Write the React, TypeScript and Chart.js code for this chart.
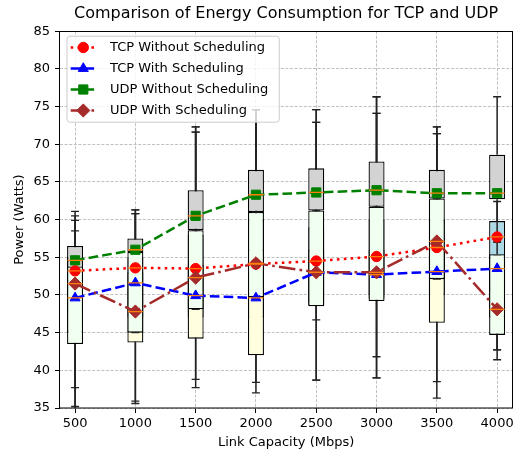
import React, { useEffect, useRef } from 'react';
import { Chart, registerables } from 'chart.js';
import * as helpers from 'chart.js/helpers';

Chart.register(...registerables);

const FONT = "'DejaVu Sans', 'Liberation Sans', sans-serif";

const titleText = 'Comparison of Energy Consumption for TCP and UDP';
const xTitle = 'Link Capacity (Mbps)';
const yTitle = 'Power (Watts)';

const capacities = [500, 1000, 1500, 2000, 2500, 3000, 3500, 4000];
const xTicks = [500, 1000, 1500, 2000, 2500, 3000, 3500, 4000];
const yTicks = [35, 40, 45, 50, 55, 60, 65, 70, 75, 80, 85];

const seriesLabels = ['TCP Without Scheduling', 'TCP With Scheduling', 'UDP Without Scheduling', 'UDP With Scheduling'];

// line values (= box medians)
const tcpWithout = [53.2, 53.6, 53.5, 54.1, 54.5, 55.1, 56.3, 57.7];
const tcpWith = [49.6, 51.6, 49.9, 49.6, 53.0, 52.7, 53.1, 53.5];
const udpWithout = [54.6, 56.0, 60.5, 63.3, 63.6, 63.9, 63.5, 63.5];
const udpWith = [51.5, 47.8, 52.3, 54.2, 53.0, 53.0, 57.1, 48.1];

// box statistics: TCP without scheduling
const tcpWithoutLow = [35.2, 35.6, 37.7, 37.0, 38.7, 39.0, 36.3, 41.4];
const tcpWithoutQ1 = [48, 47, 47, 47, 49, 50, 50, 50.5];
const tcpWithoutQ3 = [55, 55, 58, 60, 59, 60, 60, 59.8];
const tcpWithoutHigh = [61.1, 61.3, 72.3, 74.6, 72.9, 74.1, 72.3, 62.4];

// TCP with scheduling
const tcpWithLow = [37.7, 35.9, 38.8, 38.4, 46.7, 41.8, 38.5, 42.7];
const tcpWithQ1 = [45, 43.7, 44.2, 42.0, 48.6, 49.5, 46.3, 47];
const tcpWithQ3 = [52, 53, 54, 56, 56, 56, 56, 55];
const tcpWithHigh = [60.5, 60.8, 71.6, 74.6, 74.6, 76.3, 71.4, 55.2];

// UDP without scheduling
const udpWithoutLow = [53.6, 55.7, 58.6, 61.0, 61.2, 61.7, 62.8, 57.0];
const udpWithoutQ1 = [53.6, 55.7, 58.6, 61.0, 61.2, 61.7, 62.8, 62.7];
const udpWithoutQ3 = [56.5, 57.5, 63.9, 66.6, 66.8, 67.7, 66.6, 68.6];
const udpWithoutHigh = [58.5, 61.3, 72.3, 74.6, 74.6, 76.3, 72.3, 76.3];

// UDP with scheduling
const udpWithLow = [34.0, 45.0, 48.1, 49.7, 38.7, 39.0, 52.1, 42.7];
const udpWithQ1 = [43.5, 45.0, 48.1, 49.7, 48.5, 49.2, 52.1, 44.7];
const udpWithQ3 = [54.5, 55.7, 58.6, 61.0, 61.2, 61.7, 62.8, 55.4];
const udpWithHigh = [59.9, 60.8, 71.6, 74.6, 72.9, 74.1, 71.4, 57.0];

function boxGroup(fill: string, low: number[], q1: number[], q3: number[], high: number[], baseOrder: number) {
  return [
    {
      type: 'bar',
      label: '_box',
      data: capacities.map((x, i) => ({ x, y: [q1[i], q3[i]] })),
      backgroundColor: fill,
      borderColor: '#000',
      borderWidth: 1.3,
      borderSkipped: false,
      barThickness: 16,
      grouped: false,
      inflateAmount: 0,
      order: baseOrder + 2,
    },
    {
      type: 'bar',
      label: '_whisker',
      data: [
        ...capacities.map((x, i) => ({ x, y: [low[i], q1[i]] })),
        ...capacities.map((x, i) => ({ x, y: [q3[i], high[i]] })),
      ],
      backgroundColor: '#222',
      borderWidth: 0,
      barThickness: 1.5,
      grouped: false,
      inflateAmount: 0,
      order: baseOrder + 1,
    },
    {
      type: 'scatter',
      label: '_cap',
      data: [
        ...capacities.map((x, i) => ({ x, y: low[i] })),
        ...capacities.map((x, i) => ({ x, y: high[i] })),
      ],
      pointStyle: 'line',
      pointRadius: 4,
      pointBorderColor: '#222',
      pointBorderWidth: 1.3,
      showLine: false,
      order: baseOrder,
    },
  ];
}

function medianSet(vals: number[]) {
  return {
    type: 'scatter',
    label: '_median',
    data: capacities.map((x, i) => ({ x, y: vals[i] })),
    pointStyle: 'line',
    pointRadius: 7.5,
    pointBorderColor: '#ff7f0e',
    pointBorderWidth: 1.3,
    showLine: false,
    order: 0,
  };
}

function seriesSet(label: string, vals: number[], color: string, dash: number[], style: string, radius: number, order: number) {
  return {
    type: 'line',
    label,
    isSeries: true,
    data: capacities.map((x, i) => ({ x, y: vals[i] })),
    borderColor: color,
    backgroundColor: color,
    borderWidth: 2.5,
    borderDash: dash,
    borderCapStyle: 'butt',
    fill: false,
    tension: 0,
    pointStyle: style,
    pointRadius: radius,
    pointBackgroundColor: color,
    pointBorderColor: color,
    pointBorderWidth: 1,
    order,
  };
}

const framePlugin = {
  id: 'frame',
  afterDatasetsDraw(chart: any) {
    const { ctx, chartArea: a } = chart;
    ctx.save();
    ctx.strokeStyle = '#000';
    ctx.lineWidth = 1;
    ctx.setLineDash([]);
    ctx.strokeRect(Math.round(a.left) - 0.5, Math.round(a.top) + 0.5, Math.round(a.right - a.left) + 1, Math.round(a.bottom - a.top) - 0.5);
    ctx.restore();
  },
};

const legendPlugin = {
  id: 'insideLegend',
  afterDraw(chart: any) {
    const { ctx, chartArea: a } = chart;
    const items = chart.data.datasets.filter((d: any) => d.isSeries);
    ctx.save();
    ctx.font = `13px ${FONT}`;
    const textW = Math.max(...items.map((d: any) => ctx.measureText(d.label).width));
    const left = a.left + 7;
    const top = a.top + 5;
    const width = 43 + textW + 11;
    const height = 86;
    const r = 3;
    ctx.beginPath();
    ctx.moveTo(left + r, top);
    ctx.lineTo(left + width - r, top);
    ctx.arcTo(left + width, top, left + width, top + r, r);
    ctx.lineTo(left + width, top + height - r);
    ctx.arcTo(left + width, top + height, left + width - r, top + height, r);
    ctx.lineTo(left + r, top + height);
    ctx.arcTo(left, top + height, left, top + height - r, r);
    ctx.lineTo(left, top + r);
    ctx.arcTo(left, top, left + r, top, r);
    ctx.closePath();
    ctx.fillStyle = 'rgba(255,255,255,0.8)';
    ctx.fill();
    ctx.strokeStyle = '#cccccc';
    ctx.lineWidth = 1;
    ctx.stroke();
    items.forEach((d: any, i: number) => {
      const y = top + 11.3 + i * 21;
      ctx.save();
      ctx.strokeStyle = d.borderColor;
      ctx.lineWidth = d.borderWidth;
      ctx.setLineDash(d.borderDash);
      ctx.lineCap = 'butt';
      ctx.beginPath();
      ctx.moveTo(left + 3.7, y);
      ctx.lineTo(left + 29, y);
      ctx.stroke();
      ctx.setLineDash([]);
      ctx.fillStyle = d.pointBackgroundColor;
      ctx.strokeStyle = d.pointBorderColor;
      ctx.lineWidth = d.pointBorderWidth;
      helpers.drawPoint(ctx, { pointStyle: d.pointStyle, radius: d.pointRadius, rotation: 0, borderWidth: d.pointBorderWidth }, left + 16.3, y);
      ctx.restore();
      ctx.fillStyle = '#000';
      ctx.textBaseline = 'middle';
      ctx.textAlign = 'left';
      ctx.fillText(d.label, left + 43, y);
    });
    ctx.restore();
  },
};

export default function App() {
  const ref = useRef<HTMLCanvasElement | null>(null);
  useEffect(() => {
    if (!ref.current) return;
    Chart.defaults.font.family = FONT;
    Chart.defaults.color = '#000';
    const datasets: any[] = [
      medianSet(tcpWithout),
      medianSet(tcpWith),
      medianSet(udpWithout),
      medianSet(udpWith),
      seriesSet(seriesLabels[0], tcpWithout, '#ff0000', [2.6, 4.3], 'circle', 5.2, 4),
      seriesSet(seriesLabels[1], tcpWith, '#0000ff', [9.6, 4.2], 'triangle', 5.8, 3),
      seriesSet(seriesLabels[2], udpWithout, '#008000', [9.6, 4.2], 'rect', 6.5, 2),
      seriesSet(seriesLabels[3], udpWith, '#a52a2a', [16.6, 4.2, 2.6, 4.2], 'rectRot', 6.6, 1),
      ...boxGroup('#d3d3d3', udpWithoutLow, udpWithoutQ1, udpWithoutQ3, udpWithoutHigh, 10),
      ...boxGroup('#f0fff0', udpWithLow, udpWithQ1, udpWithQ3, udpWithHigh, 20),
      ...boxGroup('#ffffe0', tcpWithLow, tcpWithQ1, tcpWithQ3, tcpWithHigh, 30),
      ...boxGroup('#add8e6', tcpWithoutLow, tcpWithoutQ1, tcpWithoutQ3, tcpWithoutHigh, 40),
    ];
    const gridCommon = { color: '#b0b0b0', lineWidth: 0.8, tickColor: '#000', tickWidth: 1, tickLength: 5, offset: false };
    const chart = new Chart(ref.current, {
      type: 'bar',
      data: { datasets },
      plugins: [framePlugin, legendPlugin],
      options: {
        responsive: false,
        maintainAspectRatio: false,
        animation: false,
        events: [],
        layout: { padding: { left: 0, right: 5, top: 0, bottom: 0 } },
        plugins: {
          legend: { display: false },
          tooltip: { enabled: false },
          title: { display: true, text: titleText, fullSize: false, color: '#000', font: { family: FONT, size: 16, weight: 'normal' }, padding: { top: 4, bottom: 8 } },
        },
        scales: {
          x: {
            type: 'linear', min: 375, max: 4125, offset: false, grid: gridCommon,
            border: { display: false, dash: [3, 1.6] },
            afterBuildTicks: (axis: any) => { axis.ticks = xTicks.map((v) => ({ value: v })); },
            afterFit: (s: any) => { s.height = 48; },
            ticks: { color: '#000', font: { family: FONT, size: 13 }, padding: 3, maxRotation: 0, autoSkip: false, callback: (v: any) => String(v) },
            title: { display: true, text: xTitle, color: '#000', font: { family: FONT, size: 13 }, padding: { top: 0, bottom: 6 } },
          },
          y: {
            type: 'linear', min: 35, max: 85, grid: gridCommon,
            border: { display: false, dash: [3, 1.6] },
            afterBuildTicks: (axis: any) => { axis.ticks = yTicks.map((v) => ({ value: v })); },
            afterFit: (s: any) => { s.width = 60; },
            ticks: { color: '#000', font: { family: FONT, size: 13 }, padding: 5, autoSkip: false, callback: (v: any) => String(v) },
            title: { display: true, text: yTitle, color: '#000', font: { family: FONT, size: 13 }, padding: { top: 12, bottom: 0 } },
          },
        },
      } as any,
    } as any);
    return () => chart.destroy();
  }, []);
  return (
    <div style={{ position: 'absolute', left: 0, top: 0, width: 521, height: 456 }}>
      <canvas ref={ref} width={521} height={456} />
    </div>
  );
}
